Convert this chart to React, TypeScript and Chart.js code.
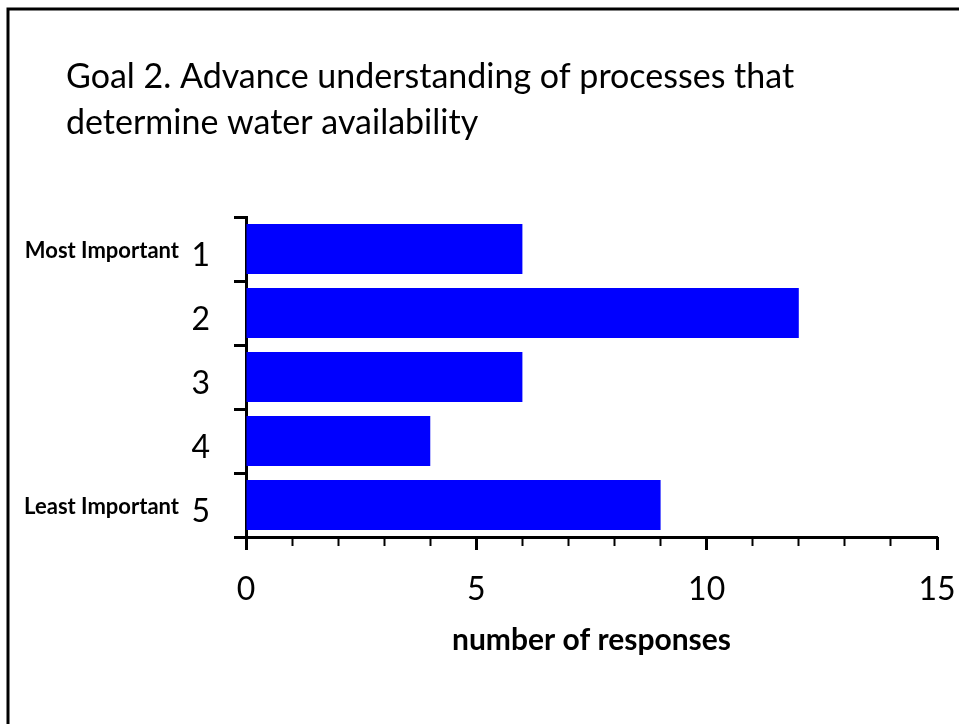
import { useEffect, useRef } from 'react';
import { Chart, registerables } from 'chart.js';

Chart.register(...registerables);

const categories = ['1', '2', '3', '4', '5'];
const importanceLabels = ['Most Important', '', '', '', 'Least Important'];
const responses = [6, 12, 6, 4, 9];
const titleLines = ['Goal 2. Advance understanding of processes that', 'determine water availability'];
const xTitle = 'number of responses';
const xMin = 0;
const xMax = 15;

const FONT = 'Lato';

const frameTitlePlugin = {
  id: 'frameTitle',
  beforeDraw(chart: any) {
    const ctx = chart.ctx;
    ctx.save();
    ctx.fillStyle = '#ffffff';
    ctx.fillRect(0, 0, chart.width, chart.height);
    ctx.strokeStyle = '#000000';
    ctx.lineWidth = 3;
    ctx.strokeRect(8, 9, chart.width + 20, chart.height + 20);
    ctx.fillStyle = '#000000';
    ctx.font = `34px ${FONT}`;
    ctx.textAlign = 'left';
    ctx.textBaseline = 'alphabetic';
    titleLines.forEach((line, i) => ctx.fillText(line, 66, 88 + i * 46));
    ctx.restore();
  },
};

export default function App() {
  const ref = useRef<HTMLCanvasElement | null>(null);

  useEffect(() => {
    document.body.style.margin = '0';
    const canvas = ref.current;
    if (!canvas) return;
    const chart = new Chart(canvas, {
      type: 'bar',
      data: {
        labels: categories,
        datasets: [
          {
            data: responses,
            backgroundColor: '#0000ff',
            borderWidth: 0,
            barPercentage: 0.78,
            categoryPercentage: 1,
            xAxisID: 'x',
            yAxisID: 'y',
          },
        ],
      },
      options: {
        indexAxis: 'y',
        animation: false,
        responsive: false,
        maintainAspectRatio: false,
        layout: { padding: { top: 217, right: 22, left: 0, bottom: 0 } },
        plugins: {
          legend: { display: false },
          tooltip: { enabled: false },
          title: { display: false },
        },
        scales: {
          x: {
            type: 'linear',
            position: 'bottom',
            weight: 1,
            min: xMin,
            max: xMax,
            ticks: {
              stepSize: 1,
              autoSkip: false,
              maxRotation: 0,
              callback: (v: any) => (Number(v) % 5 === 0 ? String(v) : ''),
              font: { family: FONT, size: 32 },
              color: '#000000',
              padding: 24,
            },
            grid: { drawOnChartArea: false, drawTicks: true, tickLength: 9, tickWidth: 2, tickColor: '#000000' },
            border: { display: true, color: '#000000', width: 3 },
            title: {
              display: true,
              text: xTitle,
              font: { family: FONT, size: 30, weight: 'bold' },
              color: '#000000',
              padding: { top: 0, bottom: 66 },
            },
            afterFit: (s: any) => {
              s.height = 187;
              s.paddingRight = 0;
              s.paddingLeft = 0;
            },
          },
          x2: {
            type: 'linear',
            position: 'bottom',
            weight: 0,
            min: xMin,
            max: xMax,
            ticks: { stepSize: 5, display: false },
            grid: { drawOnChartArea: false, drawTicks: true, tickLength: 13, tickWidth: 3, tickColor: '#000000' },
            border: { display: false },
            afterFit: (s: any) => {
              s.height = 0;
              s.paddingRight = 0;
              s.paddingLeft = 0;
            },
          },
          y: {
            type: 'category',
            position: 'left',
            weight: 0,
            offset: true,
            ticks: { font: { family: FONT, size: 32 }, color: '#000000', padding: 24, labelOffset: 7, autoSkip: false },
            grid: { offset: true, drawOnChartArea: false, drawTicks: true, tickLength: 12, tickWidth: 3, tickColor: '#000000' },
            border: { display: true, color: '#000000', width: 3 },
            afterFit: (s: any) => {
              s.width = 56;
            },
          },
          yOuter: {
            type: 'category',
            labels: importanceLabels,
            position: 'left',
            weight: 1,
            offset: true,
            ticks: { font: { family: FONT, size: 22, weight: 'bold' }, color: '#000000', padding: 11, labelOffset: 2, autoSkip: false },
            grid: { display: false, drawTicks: false, offset: true },
            border: { display: false },
            afterFit: (s: any) => {
              s.width = 190;
            },
          },
        },
      } as any,
      plugins: [frameTitlePlugin],
    });
    return () => chart.destroy();
  }, []);

  return <canvas ref={ref} width={959} height={724} style={{ display: 'block' }} />;
}
